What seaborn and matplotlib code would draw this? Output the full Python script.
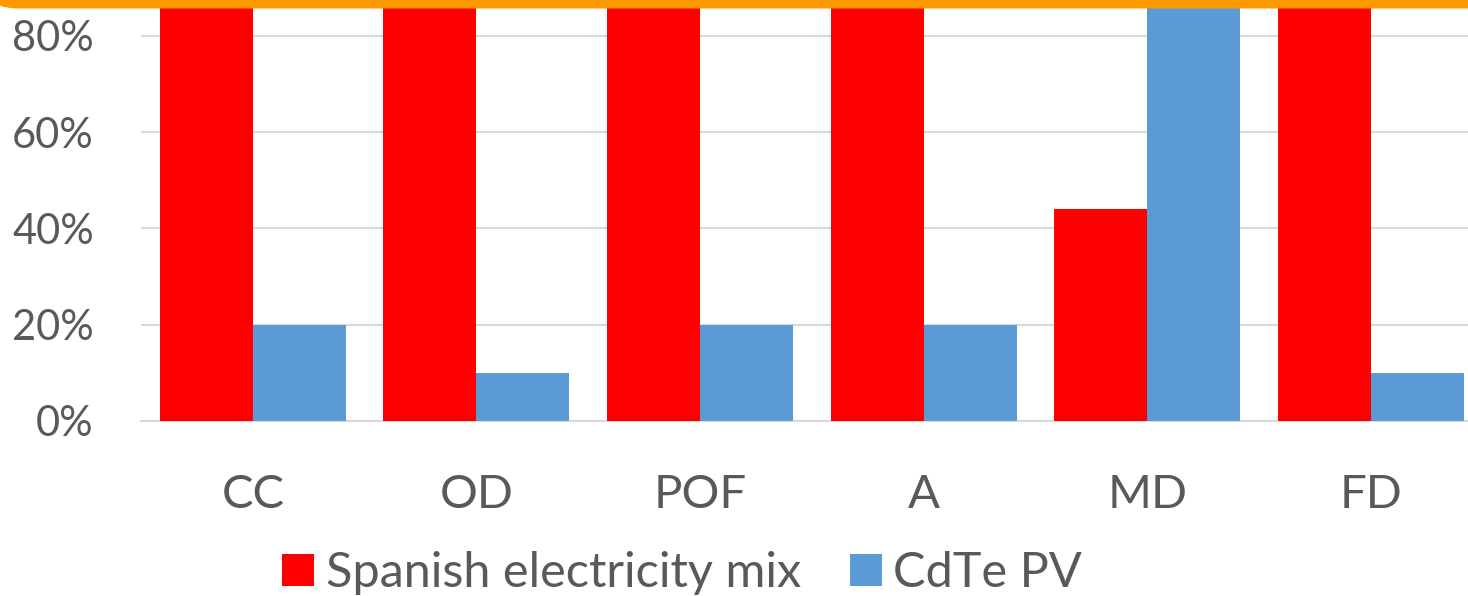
import matplotlib
matplotlib.use("Agg")
import matplotlib.pyplot as plt
import seaborn as sns
import pandas as pd
from matplotlib.patches import FancyBboxPatch, Patch
from matplotlib.ticker import FuncFormatter

# Impact categories and relative scores of each energy source
categories = ["CC", "OD", "POF", "A", "MD", "FD"]
spanish_mix = [1.00, 1.00, 1.00, 1.00, 0.44, 1.00]
cdte_pv = [0.20, 0.10, 0.20, 0.20, 1.00, 0.10]
series_names = ["Spanish electricity mix", "CdTe PV"]
series_colors = ["#FF0000", "#5B9BD5"]
y_ticks = [0.0, 0.2, 0.4, 0.6, 0.8]

df = pd.DataFrame({
    "category": categories * 2,
    "value": spanish_mix + cdte_pv,
    "source": [series_names[0]] * len(categories) + [series_names[1]] * len(categories),
})

sns.set_theme(style="white")
plt.rcParams["font.family"] = ["Lato", "DejaVu Sans"]

W, H = 1468, 596
fig = plt.figure(figsize=(W / 100, H / 100), dpi=100)

# plot area: x from 141 px, 0% baseline at 421 px from top, 100% at -60 px
left = 141 / W
width = (6 * 223.6) / W
bottom = (H - 421) / H
height = 481.5 / H
ax = fig.add_axes([left, bottom, width, height])

sns.barplot(data=df, x="category", y="value", hue="source",
            palette=series_colors, width=0.832, gap=0, saturation=1,
            linewidth=0, ax=ax, legend=False, zorder=3)

ax.set_xlim(-0.5, 5.5)
ax.set_ylim(0, 1.0)
ax.set_yticks(y_ticks)
ax.yaxis.set_major_formatter(FuncFormatter(lambda v, p: f"{v * 100:.0f}%"))
ax.grid(axis="y", color="#D9D9D9", linewidth=1.5, zorder=0)
ax.grid(axis="x", visible=False)
for s in ["top", "right", "left"]:
    ax.spines[s].set_visible(False)
ax.spines["bottom"].set_color("#D9D9D9")
ax.spines["bottom"].set_linewidth(1.5)
ax.spines["bottom"].set_zorder(1)
ax.set_xlabel("")
ax.set_ylabel("")
ax.tick_params(axis="both", length=0, colors="#595959")
ax.tick_params(axis="y", pad=34, labelsize=30)
ax.tick_params(axis="x", pad=38, labelsize=34)

handles = [Patch(facecolor=c, edgecolor="none") for c in series_colors]
fig.legend(handles, series_names, loc="center",
           bbox_to_anchor=(682 / W, 1 - 573 / H), ncol=2, frameon=False,
           fontsize=35, labelcolor="#595959", handlelength=0.66,
           handleheight=0.66, handletextpad=0.24, columnspacing=1.0,
           borderpad=0, borderaxespad=0)

# orange rounded frame edge running along the top
frame = FancyBboxPatch((-0.22, (H - 8.5) / 100), 20.0, 5.0,
                       boxstyle="round,pad=0,rounding_size=0.4",
                       transform=fig.dpi_scale_trans, facecolor="#FF9900",
                       edgecolor="none", zorder=10)
fig.patches.append(frame)

fig.savefig("out.png", dpi=100)
